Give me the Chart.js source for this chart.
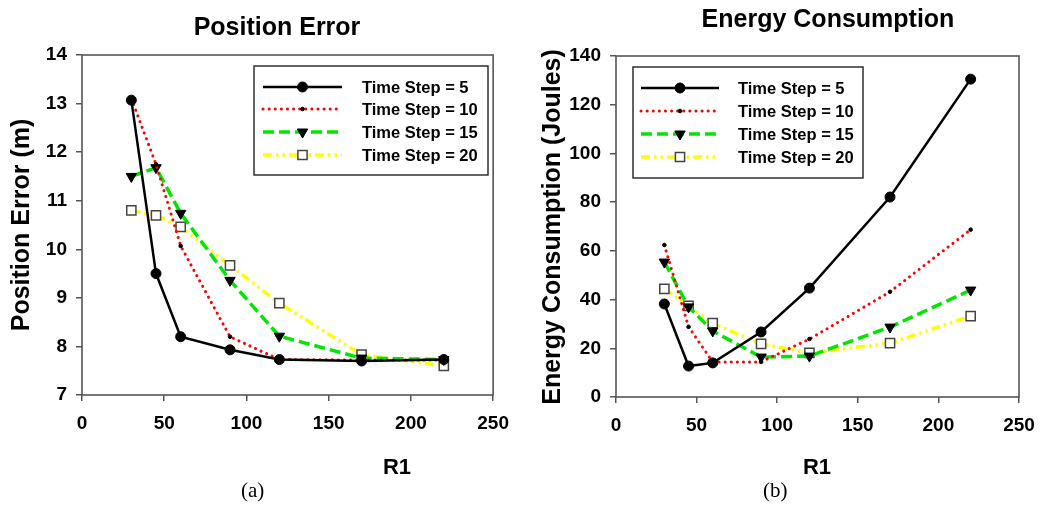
<!DOCTYPE html>
<html><head><meta charset="utf-8">
<script src="https://cdn.jsdelivr.net/npm/chart.js@4.4.1/dist/chart.umd.min.js"></script>
<style>
body{margin:0;background:#fff;width:1053px;height:506px;overflow:hidden;position:relative;}
canvas{position:absolute;top:0;}
#c1{left:0;}
#c2{left:520px;}
.cap{position:absolute;top:478px;font-family:"Liberation Serif","Times New Roman",serif;font-size:21px;color:#000;}
</style></head><body>
<canvas id="c1" width="520" height="506"></canvas>
<canvas id="c2" width="533" height="506"></canvas>
<div class="cap" style="left:241px">(a)</div>
<div class="cap" style="left:763px">(b)</div>
<script>
// ---- data ----
const r1Values = [30, 45, 60, 90, 120, 170, 220];
const seriesLabels = ['Time Step = 5', 'Time Step = 10', 'Time Step = 15', 'Time Step = 20'];
const posErrTS5  = [13.07, 9.5, 8.2, 7.93, 7.73, 7.7, 7.73];
const posErrTS10 = [13.1, 11.75, 10.07, 8.2, 7.73, 7.72, 7.72];
const posErrTS15 = [11.5, 11.68, 10.74, 9.36, 8.21, 7.76, 7.73];
const posErrTS20 = [10.8, 10.7, 10.46, 9.67, 8.89, 7.83, 7.6];
const energyTS5  = [38.2, 12.7, 14.0, 26.7, 44.7, 82.1, 130.5];
const energyTS10 = [62.4, 28.8, 14.4, 14.4, 23.8, 43.2, 68.7];
const energyTS15 = [55.4, 37.0, 27.1, 16.4, 16.8, 28.7, 43.9];
const energyTS20 = [44.4, 37.4, 30.3, 21.8, 18.1, 22.1, 33.2];
const xTicks = [0, 50, 100, 150, 200, 250];
const posErrTicks = [7, 8, 9, 10, 11, 12, 13, 14];
const energyTicks = [0, 20, 40, 60, 80, 100, 120, 140];

const FONT = '"Liberation Sans", Arial, Helvetica, sans-serif';

function styles() {
  return [
    {borderColor:'#000000', borderWidth:2.5, borderDash:[], pointStyle:'circle', pointRadius:5, pointBackgroundColor:'#000', pointBorderColor:'#000', pointBorderWidth:1, pointRotation:0},
    {borderColor:'#ff0000', borderWidth:3, borderDash:[0.1,6], borderCapStyle:'round', pointStyle:'circle', pointRadius:1.8, pointBackgroundColor:'#000', pointBorderColor:'#000', pointBorderWidth:1, pointRotation:0},
    {borderColor:'#00e600', borderWidth:3.5, borderDash:[11,5], pointStyle:'triangle', pointRadius:6, pointBackgroundColor:'#000', pointBorderColor:'#000', pointBorderWidth:1, pointRotation:180},
    {borderColor:'#ffff00', borderWidth:3.5, borderDash:[9,4,2.5,4,2.5,4], pointStyle:'rect', pointRadius:6.5, pointBackgroundColor:'#fff', pointBorderColor:'#444', pointBorderWidth:1.5, pointRotation:0}
  ];
}

function makeDatasets(seriesList) {
  const st = styles();
  return seriesList.map((vals, i) => Object.assign({
    label: seriesLabels[i],
    data: r1Values.map((x, j) => ({x: x, y: vals[j]})),
    tension: 0,
    fill: false,
    pointHoverRadius: st[i].pointRadius
  }, st[i]));
}

const decorPlugin = {
  id: 'decor',
  afterDraw(chart, args, o) {
    const ctx = chart.ctx, a = chart.chartArea;
    ctx.save();
    // frame
    ctx.strokeStyle = '#555';
    ctx.lineWidth = 1.6;
    ctx.setLineDash([]);
    ctx.strokeRect(a.left, a.top, a.right - a.left, a.bottom - a.top);
    // title
    ctx.fillStyle = '#000';
    ctx.textAlign = 'center';
    ctx.textBaseline = 'middle';
    ctx.font = 'bold 25px ' + FONT;
    ctx.fillText(o.title, o.titleX, o.titleY);
    // x title
    ctx.font = 'bold 22px ' + FONT;
    ctx.fillText(o.xTitle, o.xTitleX, o.xTitleY);
    // y title
    ctx.save();
    ctx.translate(o.yTitleX, o.yTitleY);
    ctx.rotate(-Math.PI / 2);
    ctx.font = 'bold 25px ' + FONT;
    ctx.fillText(o.yTitle, 0, 0);
    ctx.restore();
    // legend
    const L = o.legend;
    ctx.fillStyle = '#fff';
    ctx.fillRect(L.x, L.y, L.w, L.h);
    ctx.strokeStyle = '#222';
    ctx.lineWidth = 1.4;
    ctx.strokeRect(L.x, L.y, L.w, L.h);
    chart.data.datasets.forEach((ds, i) => {
      const y = L.rows[i];
      ctx.save();
      ctx.strokeStyle = ds.borderColor;
      ctx.lineWidth = ds.borderWidth;
      ctx.lineCap = ds.borderCapStyle || 'butt';
      ctx.setLineDash(ds.borderDash || []);
      ctx.beginPath();
      ctx.moveTo(L.lineX0, y);
      ctx.lineTo(L.lineX1, y);
      ctx.stroke();
      ctx.restore();
      ctx.save();
      ctx.fillStyle = ds.pointBackgroundColor;
      ctx.strokeStyle = ds.pointBorderColor;
      ctx.lineWidth = ds.pointBorderWidth;
      ctx.setLineDash([]);
      Chart.helpers.drawPoint(ctx, {pointStyle: ds.pointStyle, rotation: ds.pointRotation, radius: ds.pointRadius, borderWidth: ds.pointBorderWidth}, (L.lineX0 + L.lineX1) / 2, y);
      ctx.restore();
      ctx.fillStyle = '#000';
      ctx.textAlign = 'left';
      ctx.textBaseline = 'middle';
      ctx.font = 'bold 16.5px ' + FONT;
      ctx.fillText(ds.label, L.textX, y + 1);
    });
    ctx.restore();
  }
};

function makeChart(id, series, yMin, yMax, yStep, yTickList, geom, decor) {
  return new Chart(document.getElementById(id), {
    type: 'line',
    data: {datasets: makeDatasets(series)},
    plugins: [decorPlugin],
    options: {
      responsive: false,
      animation: false,
      events: [],
      layout: {padding: {left: 0, right: geom.padRight, top: geom.top, bottom: 0}},
      plugins: {legend: {display: false}, title: {display: false}, tooltip: {enabled: false}, decor: decor},
      scales: {
        x: {
          type: 'linear', min: 0, max: 250,
          afterBuildTicks: s => { s.ticks = xTicks.map(v => ({value: v})); },
          afterFit: s => { s.height = geom.xAxisH; },
          border: {display: false},
          grid: {drawOnChartArea: false, drawTicks: true, tickLength: 6, color: '#555', lineWidth: 1.5},
          ticks: {color: '#000', font: {family: FONT, size: 19, weight: 'bold'}, padding: 11, maxRotation: 0}
        },
        y: {
          type: 'linear', min: yMin, max: yMax,
          afterBuildTicks: s => { s.ticks = yTickList.map(v => ({value: v})); },
          afterFit: s => { s.width = geom.left; },
          border: {display: false},
          grid: {drawOnChartArea: false, drawTicks: true, tickLength: 6, color: '#555', lineWidth: 1.5},
          ticks: {color: '#000', font: {family: FONT, size: 19, weight: 'bold'}, padding: 9}
        }
      }
    }
  });
}

makeChart('c1', [posErrTS5, posErrTS10, posErrTS15, posErrTS20], 7, 14, 1, posErrTicks,
  {left: 82, padRight: 22, top: 55, xAxisH: 506 - 395},
  {title: 'Position Error', titleX: 277, titleY: 28,
   xTitle: 'R1', xTitleX: 397, xTitleY: 468,
   yTitle: 'Position Error (m)', yTitleX: 22, yTitleY: 225,
   legend: {x: 254, y: 66, w: 234, h: 109, rows: [87, 109, 132, 155], lineX0: 263, lineX1: 342, textX: 362}});

makeChart('c2', [energyTS5, energyTS10, energyTS15, energyTS20], 0, 140, 20, energyTicks,
  {left: 96, padRight: 533 - 499, top: 56, xAxisH: 506 - 397},
  {title: 'Energy Consumption', titleX: 308, titleY: 20,
   xTitle: 'R1', xTitleX: 297, xTitleY: 468,
   yTitle: 'Energy Consumption (Joules)', yTitleX: 33, yTitleY: 227,
   legend: {x: 113, y: 67, w: 230, h: 111, rows: [88, 111, 134, 157], lineX0: 121, lineX1: 199, textX: 218}});
</script>
</body></html>
